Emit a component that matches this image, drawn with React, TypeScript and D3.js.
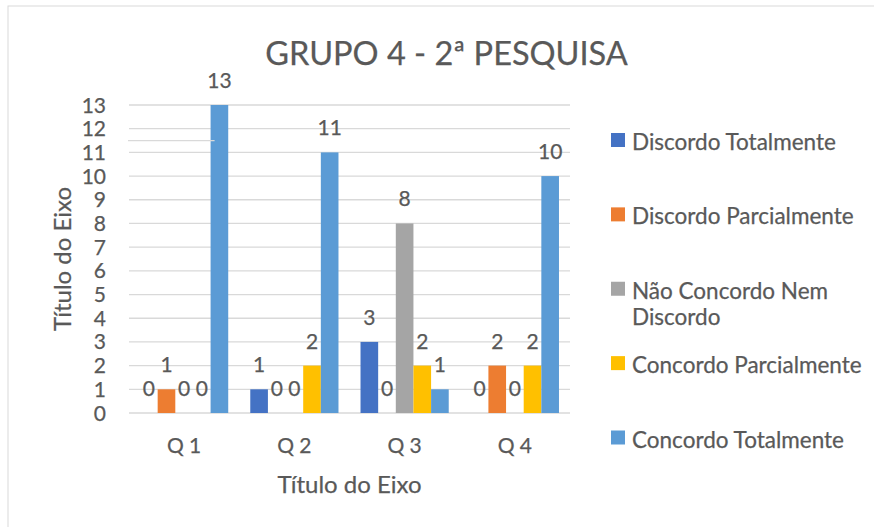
import { useEffect, useRef } from "react";
import * as d3 from "d3";

const WIDTH = 874;
const HEIGHT = 527;

const categories = ["Q 1", "Q 2", "Q 3", "Q 4"];
const seriesNames = [
  "Discordo Totalmente",
  "Discordo Parcialmente",
  "Não Concordo Nem Discordo",
  "Concordo Parcialmente",
  "Concordo Totalmente",
];
const seriesColors = ["#4472C4", "#ED7D31", "#A5A5A5", "#FFC000", "#5B9BD5"];

// one array per series, in category order
const discordoTotalmente = [0, 1, 3, 0];
const discordoParcialmente = [1, 0, 0, 2];
const naoConcordoNemDiscordo = [0, 0, 8, 0];
const concordoParcialmente = [0, 2, 2, 2];
const concordoTotalmente = [13, 11, 1, 10];
const yTicks = d3.range(0, 14);

const FONT = "Lato, 'Liberation Sans', sans-serif";
const TEXT = "#595959";

// small helper so every label gets the same look
function styleText(sel: any, size: number) {
  return sel
    .attr("font-size", size)
    .attr("font-family", FONT)
    .attr("fill", TEXT)
    .attr("stroke", TEXT)
    .attr("stroke-width", 0.25);
}

export default function App() {
  const ref = useRef<SVGSVGElement>(null);

  useEffect(() => {
    const svg = d3.select(ref.current);
    svg.selectAll("*").remove();

    const values = [
      discordoTotalmente,
      discordoParcialmente,
      naoConcordoNemDiscordo,
      concordoParcialmente,
      concordoTotalmente,
    ];

    const x0 = d3.scaleBand().domain(categories).range([129, 570]).paddingInner(0.2).paddingOuter(0.1);
    const x1 = d3.scaleBand().domain(seriesNames).range([0, x0.bandwidth()]);
    const y = d3.scaleLinear().domain([0, 13]).range([413, 105]);

    // outer chart border
    svg.append("rect")
      .attr("x", 8).attr("y", 6)
      .attr("width", WIDTH).attr("height", HEIGHT)
      .attr("fill", "#fff").attr("stroke", "#d9d9d9").attr("stroke-width", 1);

    // gridlines
    svg.append("g")
      .selectAll("line")
      .data(yTicks)
      .join("line")
      .attr("x1", 129).attr("x2", 570)
      .attr("y1", (d) => y(d)).attr("y2", (d) => y(d))
      .attr("stroke", "#d9d9d9").attr("stroke-width", 1.3);

    // y tick labels
    styleText(
      svg.append("g")
        .selectAll("text")
        .data(yTicks)
        .join("text")
        .attr("x", 106)
        .attr("y", (d) => y(d) + 7.5)
        .attr("text-anchor", "end"),
      21
    ).text((d: number) => d);

    // bars
    const groups = svg.append("g")
      .selectAll("g")
      .data(categories)
      .join("g")
      .attr("transform", (d) => `translate(${x0(d)},0)`);

    groups.selectAll("rect")
      .data((_, ci) => seriesNames.map((s, si) => ({ s, si, v: values[si][ci] })))
      .join("rect")
      .attr("x", (d) => x1(d.s)!)
      .attr("width", x1.bandwidth())
      .attr("y", (d) => y(d.v))
      .attr("height", (d) => y(0) - y(d.v))
      .attr("fill", (d) => seriesColors[d.si]);

    styleText(
      groups.selectAll("text")
        .data((_, ci) => seriesNames.map((s, si) => ({ s, si, v: values[si][ci] })))
        .join("text")
        .attr("x", (d) => x1(d.s)! + x1.bandwidth() / 2)
        .attr("y", (d) => y(d.v) - 17)
        .attr("text-anchor", "middle"),
      21
    ).text((d: any) => d.v);

    // stray light line over the first group
    svg.append("line")
      .attr("x1", 128)
      .attr("x2", x0("Q 1")! + x1("Concordo Totalmente")! + 4)
      .attr("y1", y(11.5)).attr("y2", y(11.5))
      .attr("stroke", "#d9d9d9").attr("stroke-width", 1.3);

    // category labels
    styleText(
      svg.append("g")
        .selectAll("text")
        .data(categories)
        .join("text")
        .attr("x", (d) => x0(d)! + x0.bandwidth() / 2)
        .attr("y", 453)
        .attr("text-anchor", "middle"),
      21
    ).text((d: string) => d);

    // title
    styleText(
      svg.append("text").attr("x", 446.5).attr("y", 65).attr("text-anchor", "middle"),
      32.5
    ).text("GRUPO 4 - 2ª PESQUISA");

    // axis titles
    styleText(
      svg.append("text").attr("x", 349.5).attr("y", 493).attr("text-anchor", "middle"),
      24
    ).text("Título do Eixo");

    styleText(
      svg.append("text")
        .attr("transform", `translate(71,${(y(0) + y(13)) / 2}) rotate(-90)`)
        .attr("text-anchor", "middle"),
      24
    ).text("Título do Eixo");

    // legend
    const legendY = d3.scalePoint().domain(seriesNames).range([140.5, 438]);
    const legend = svg.append("g")
      .selectAll("g")
      .data(seriesNames)
      .join("g")
      .attr("transform", (d) => `translate(611,${legendY(d)})`);

    legend.append("rect")
      .attr("x", 0).attr("y", -7.5)
      .attr("width", 14).attr("height", 14)
      .attr("fill", (_, i) => seriesColors[i]);

    styleText(legend.append("text").attr("x", 21).attr("y", 9.5), 22.5)
      .each(function (this: SVGTextElement, d: string) {
        const t = d3.select(this);
        const words = d.split(" ");
        let line: string[] = [];
        let tspan = t.append("tspan").attr("x", 21).attr("dy", 0);
        for (const w of words) {
          line.push(w);
          tspan.text(line.join(" "));
          if ((tspan.node() as SVGTSpanElement).getComputedTextLength() > 245 && line.length > 1) {
            line.pop();
            tspan.text(line.join(" "));
            line = [w];
            tspan = t.append("tspan").attr("x", 21).attr("dy", 26.7).text(w);
          }
        }
      });
  }, []);

  return (
    <div style={{ position: "absolute", left: 0, top: 0 }}>
      <svg ref={ref} width={WIDTH} height={HEIGHT} style={{ display: "block" }} />
    </div>
  );
}
